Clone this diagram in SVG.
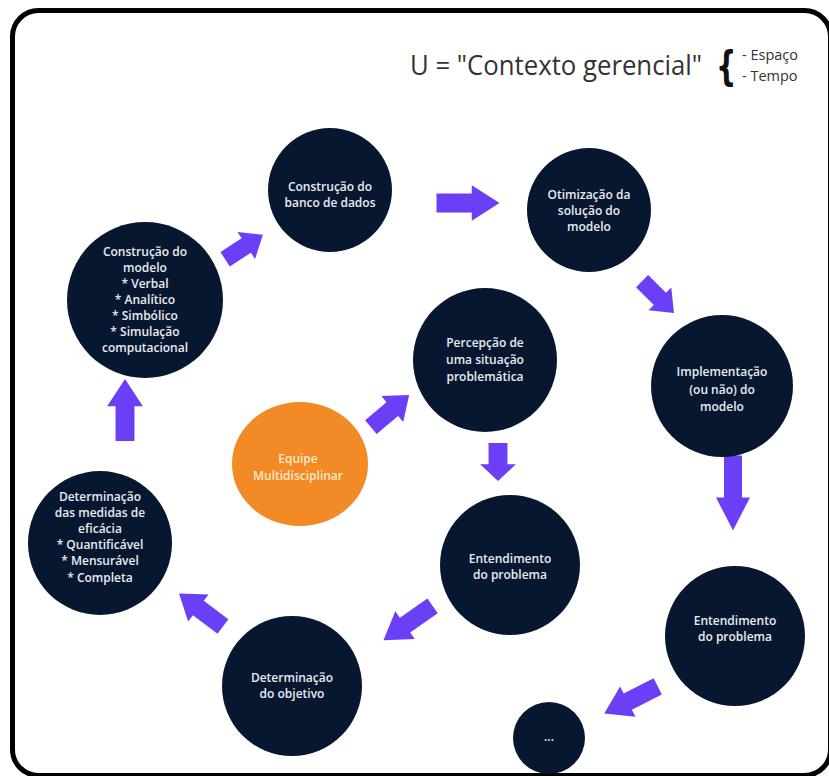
<svg xmlns="http://www.w3.org/2000/svg" width="829" height="776" viewBox="0 0 829 776">
<style>
.node{fill:#081730}
.lbl{font-family:"Open Sans","DejaVu Sans",sans-serif;font-size:12px;font-weight:600;fill:#e8ecf2;text-anchor:middle}
.arr{fill:#6a3ff5}
.title{font-family:"Open Sans","DejaVu Sans",sans-serif;fill:#333333}
</style>
<defs>
<path id="ar" d="M-25,-9 L3,-9 L3,-17 L25,0 L3,17 L3,9 L-25,9 Z"/>
</defs>
<rect width="829" height="776" fill="#ffffff"/>
<rect x="12.5" y="10.5" width="818" height="765" rx="26" fill="none" stroke="#000" stroke-width="5"/>
<g id="title">
<text class="title" x="410" y="75" font-size="27" textLength="292" lengthAdjust="spacingAndGlyphs">U = "Contexto gerencial"</text>
<text transform="translate(716,80) scale(0.9,1.25)" font-family="DejaVu Sans, sans-serif" font-size="32" font-weight="bold" fill="#111">{</text>
<text class="title" x="742" y="60" font-size="14.5">- Espaço</text>
<text class="title" x="742" y="81" font-size="14.5">- Tempo</text>
</g>
<g id="connectors" class="arr">
<use href="#ar" transform="translate(244,247) rotate(-33) scale(0.9,0.95)"/>
<use href="#ar" transform="translate(468,203) scale(1.26,1.05)"/>
<use href="#ar" transform="translate(658,297) rotate(45) scale(0.9,0.95)"/>
<use href="#ar" transform="translate(733,493) rotate(90) scale(1.5,1)"/>
<use href="#ar" transform="translate(631,700) rotate(153) scale(1.2,1)"/>
<use href="#ar" transform="translate(498,462) rotate(90) scale(0.76,1.05)"/>
<use href="#ar" transform="translate(408,623) rotate(145) scale(1.2,1)"/>
<use href="#ar" transform="translate(201,610) rotate(-143) scale(1.1,1)"/>
<use href="#ar" transform="translate(125,410) rotate(-90) scale(1.24,1.05)"/>
<use href="#ar" transform="translate(390,411) rotate(-40) scale(1,1)"/>
</g>
<g id="n-banco">
<circle class="node" cx="330" cy="190" r="62"/>
<text class="lbl" x="330" y="191">Construção do</text>
<text class="lbl" x="330" y="207">banco de dados</text>
</g>
<g id="n-otimizacao">
<circle class="node" cx="589" cy="210" r="62"/>
<text class="lbl" x="589" y="199">Otimização da</text>
<text class="lbl" x="589" y="215">solução do</text>
<text class="lbl" x="589" y="231">modelo</text>
</g>
<g id="n-construcao-modelo">
<circle class="node" cx="145" cy="300" r="78"/>
<text class="lbl" x="145" y="256">Construção do</text>
<text class="lbl" x="145" y="272">modelo</text>
<text class="lbl" x="145" y="288">* Verbal</text>
<text class="lbl" x="145" y="304">* Analítico</text>
<text class="lbl" x="145" y="320">* Simbólico</text>
<text class="lbl" x="145" y="336">* Simulação</text>
<text class="lbl" x="145" y="352">computacional</text>
</g>
<g id="n-percepcao">
<circle class="node" cx="485" cy="360" r="72"/>
<text class="lbl" x="485" y="347">Percepção de</text>
<text class="lbl" x="485" y="364">uma situação</text>
<text class="lbl" x="485" y="381">problemática</text>
</g>
<g id="n-implementacao">
<circle class="node" cx="722" cy="386" r="71"/>
<text class="lbl" x="722" y="376">Implementação</text>
<text class="lbl" x="722" y="394">(ou não) do</text>
<text class="lbl" x="722" y="411">modelo</text>
</g>
<g id="n-equipe">
<ellipse cx="300" cy="464" rx="68" ry="62" fill="#f28a26"/>
<text class="lbl" x="298" y="463" style="fill:#fde9c8">Equipe</text>
<text class="lbl" x="298" y="480" style="fill:#fde9c8">Multidisciplinar</text>
</g>
<g id="n-medidas">
<circle class="node" cx="100" cy="543" r="72"/>
<text class="lbl" x="100" y="501">Determinação</text>
<text class="lbl" x="100" y="517">das medidas de</text>
<text class="lbl" x="100" y="533">eficácia</text>
<text class="lbl" x="100" y="549">* Quantificável</text>
<text class="lbl" x="100" y="565">* Mensurável</text>
<text class="lbl" x="100" y="582">* Completa</text>
</g>
<g id="n-entendimento-1">
<circle class="node" cx="510" cy="565" r="70"/>
<text class="lbl" x="510" y="563">Entendimento</text>
<text class="lbl" x="510" y="579">do problema</text>
</g>
<g id="n-objetivo">
<circle class="node" cx="292" cy="686" r="70"/>
<text class="lbl" x="292" y="682">Determinação</text>
<text class="lbl" x="292" y="698">do objetivo</text>
</g>
<g id="n-entendimento-2">
<circle class="node" cx="735" cy="636" r="70"/>
<text class="lbl" x="735" y="625">Entendimento</text>
<text class="lbl" x="735" y="641">do problema</text>
</g>
<g id="n-etc">
<circle class="node" cx="549" cy="738" r="36"/>
<text class="lbl" x="549" y="741">...</text>
</g>
</svg>
